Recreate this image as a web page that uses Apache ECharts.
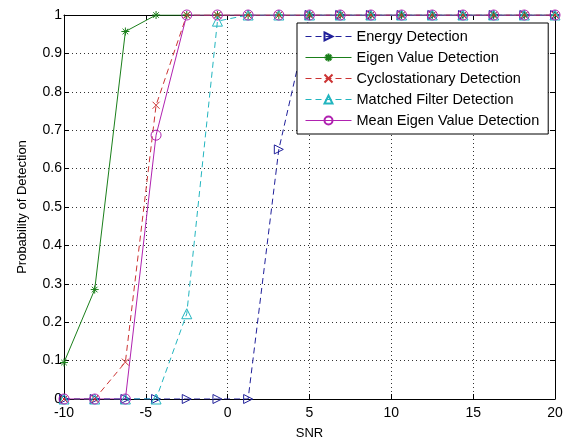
<!DOCTYPE html>
<html>
<head>
<meta charset="utf-8">
<title></title>
<script src="https://cdn.jsdelivr.net/npm/echarts@6/dist/echarts.min.js"></script>
<style>body{margin:0;background:#fff}</style>
</head>
<body>
<div id="main" style="width:563px;height:439px;"></div>
<script type="text/javascript">
// SNR points (17 points from -10 to 20)
var snr = [-10, -8.125, -6.25, -4.375, -2.5, -0.625, 1.25, 3.125, 5, 6.875, 8.75, 10.625, 12.5, 14.375, 16.25, 18.125, 20];
var energy = [0, 0, 0, 0, 0, 0, 0, 0.65, 1, 1, 1, 1, 1, 1, 1, 1, 1];
var eigen = [0.095, 0.285, 0.957, 1, 1, 1, 1, 1, 1, 1, 1, 1, 1, 1, 1, 1, 1];
var cyclo = [0, 0, 0.096, 0.765, 1, 1, 1, 1, 1, 1, 1, 1, 1, 1, 1, 1, 1];
var matched = [0, 0, 0, 0, 0.222, 0.984, 1, 1, 1, 1, 1, 1, 1, 1, 1, 1, 1];
var meanEigen = [0, 0, 0, 0.687, 1, 1, 1, 1, 1, 1, 1, 1, 1, 1, 1, 1, 1];
var names = ['Energy Detection', 'Eigen Value Detection', 'Cyclostationary Detection', 'Matched Filter Detection', 'Mean Eigen Value Detection'];

function pairs(ys) {
    return snr.map(function (x, i) { return [x, ys[i]]; });
}

var FONT = 'Liberation Sans';
var star = 'path://M0,-10L0,10M-10,0L10,0M-7,-7L7,7M-7,7L7,-7';
var cross = 'path://M-7,-7L7,7M-7,7L7,-7';
var rtri = 'path://M0,0L10,5L0,10Z';

function mk(name, ys, color, dashed, symbol, size) {
    return {
        name: name,
        type: 'line',
        data: pairs(ys),
        symbol: symbol,
        symbolSize: size,
        showAllSymbol: true,
        lineStyle: {color: color, width: 1, type: dashed ? [6, 4] : 'solid'},
        itemStyle: {color: 'transparent', borderColor: color, borderWidth: 1},
        emphasis: {disabled: true},
        animation: false
    };
}

var myChart = echarts.init(document.getElementById('main'));
var tickStyle = {inside: true, length: 5, lineStyle: {color: '#000'}};
var gridLine = {show: true, lineStyle: {color: '#333', type: [1, 3], width: 1}};

myChart.setOption({
    backgroundColor: '#fff',
    animation: false,
    grid: {left: 64, right: 8, top: 15, bottom: 40, containLabel: false, outerBoundsMode: 'none'},
    legend: {
        orient: 'vertical',
        left: 297,
        top: 23,
        padding: [6, 9, 6, 8],
        itemGap: 6,
        itemWidth: 46,
        itemHeight: 10,
        backgroundColor: '#fff',
        borderColor: '#000',
        borderWidth: 1,
        borderRadius: 0,
        lineStyle: {width: 1},
        textStyle: {fontFamily: FONT, fontSize: 14.5, color: '#000'},
        data: names
    },
    xAxis: [{
        type: 'value', min: -10, max: 20, interval: 5,
        name: 'SNR', nameLocation: 'middle', nameGap: 28,
        nameTextStyle: {fontFamily: FONT, fontSize: 13, color: '#000'},
        axisLine: {show: true, onZero: false, lineStyle: {color: '#000'}},
        axisTick: tickStyle,
        axisLabel: {fontFamily: FONT, fontSize: 14, color: '#000', margin: 7},
        splitLine: gridLine
    }, {
        type: 'value', min: -10, max: 20, interval: 5, position: 'top',
        axisLine: {show: true, onZero: false, lineStyle: {color: '#000'}},
        axisTick: tickStyle, axisLabel: {show: false}, splitLine: {show: false}
    }],
    yAxis: [{
        type: 'value', min: 0, max: 1, interval: 0.1,
        name: 'Probability of Detection', nameLocation: 'middle', nameGap: 35,
        nameTextStyle: {fontFamily: FONT, fontSize: 13, color: '#000'},
        axisLine: {show: true, onZero: false, lineStyle: {color: '#000'}},
        axisTick: tickStyle,
        axisLabel: {fontFamily: FONT, fontSize: 14, color: '#000', margin: 2},
        splitLine: gridLine
    }, {
        type: 'value', min: 0, max: 1, interval: 0.1, position: 'right',
        axisLine: {show: true, onZero: false, lineStyle: {color: '#000'}},
        axisTick: tickStyle, axisLabel: {show: false}, splitLine: {show: false}
    }],
    series: [
        mk(names[0], energy, '#20209a', true, rtri, 9),
        mk(names[1], eigen, '#1a7f1a', false, star, 8),
        mk(names[2], cyclo, '#cc3333', true, cross, 7),
        mk(names[3], matched, '#22b5bf', true, 'triangle', 10),
        mk(names[4], meanEigen, '#b022b0', false, 'circle', 10)
    ]
});
</script>
</body>
</html>
